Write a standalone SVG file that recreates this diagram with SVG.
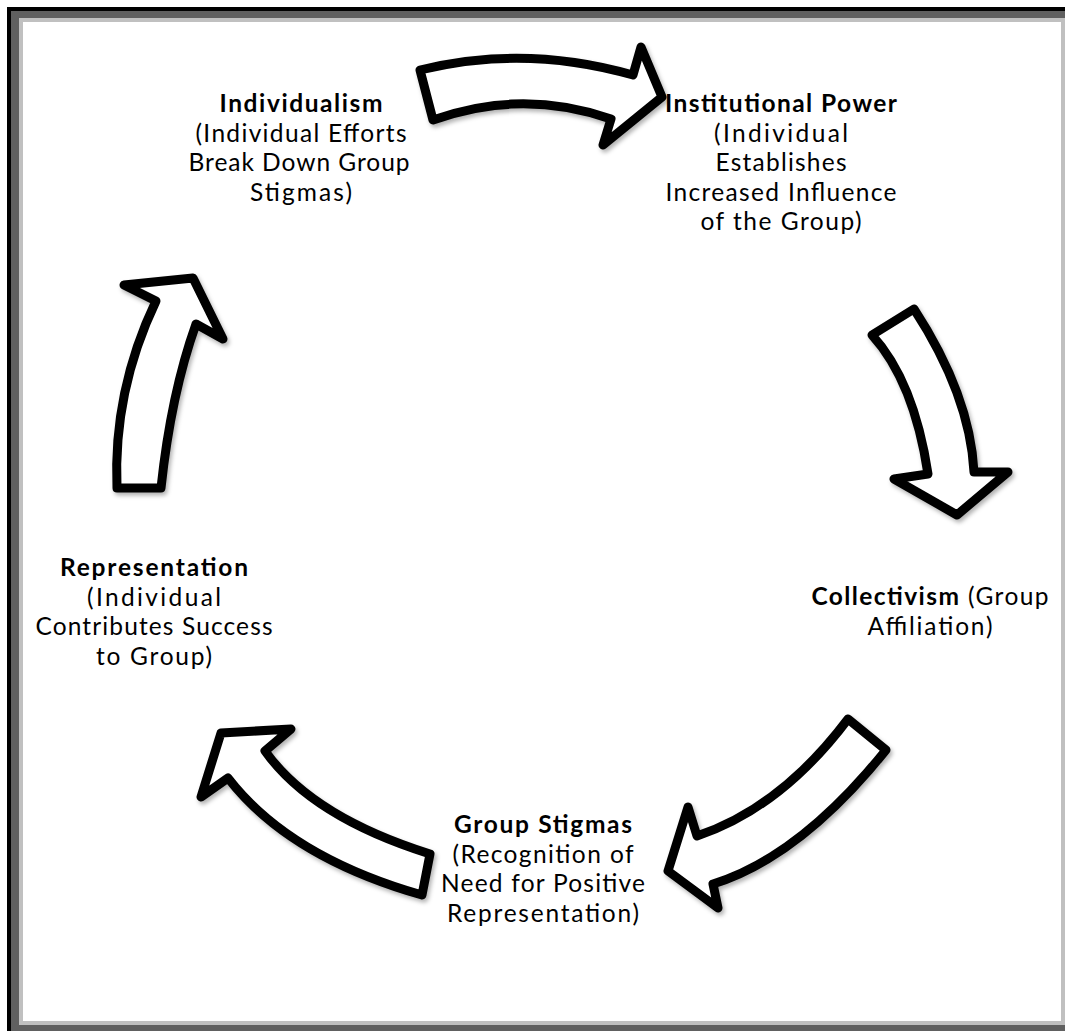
<svg xmlns="http://www.w3.org/2000/svg" width="1065" height="1031" viewBox="0 0 1065 1031">
  <style>
    .lbl { font-family: Lato, "Open Sans", "Liberation Sans", sans-serif; font-size: 24.5px; fill: #000; text-anchor: middle; }
    .b { font-weight: bold; }
    .arrow { fill: #fff; stroke: #000; stroke-width: 9; stroke-linejoin: round; filter: url(#shadow); }
  </style>
  <defs>
    <filter id="shadow" x="-20%" y="-20%" width="140%" height="140%">
      <feDropShadow dx="2" dy="3" stdDeviation="2" flood-color="#000" flood-opacity="0.3"/>
    </filter>
  </defs>

  <!-- page frame -->
  <rect x="0" y="0" width="1065" height="1031" fill="#fff"/>
  <rect x="7" y="7" width="1070" height="1040" fill="#000"/>
  <rect x="11" y="11" width="1070" height="1040" fill="#606060"/>
  <rect x="19" y="18" width="1046" height="1007" fill="#c0c0c0"/>
  <rect x="23" y="22" width="1038" height="999" fill="#fff"/>

  <!-- cycle arrows -->
  <g id="connectors">
    <path class="arrow" d="M 420,70 Q 525,44 633,75 L 641,47 L 662,97 L 603,145 L 611,119 Q 522,88 433,120 Z"/>
    <path class="arrow" d="M 872,335 L 914,309 Q 970,395 974,472 L 1008,472 L 957,515 L 894,479 L 928,474 Q 914,381 872,335 Z"/>
    <path class="arrow" d="M 848,719 L 886,750 Q 800,857 713,884 L 718,908 L 668,871 L 688,807 L 697,836 Q 781,808 848,719 Z"/>
    <path class="arrow" d="M 430,854 L 422,895 Q 289,857 228,778 L 201,797 L 221,733 L 291,729 L 265,751 Q 312,817 430,854 Z"/>
    <path class="arrow" d="M 117,488 Q 113,391 156,301 L 124,285 L 193,278 L 223,339 L 196,324 Q 171,394 161,488 Z"/>
  </g>

  <g id="individualism">
    <text class="lbl b" x="301" y="112" textLength="163" lengthAdjust="spacing">Individualism</text>
    <text class="lbl" x="301" y="141.5" textLength="211" lengthAdjust="spacing">(Individual Efforts</text>
    <text class="lbl" x="299" y="171" textLength="221" lengthAdjust="spacing">Break Down Group</text>
    <text class="lbl" x="301" y="200.5" textLength="102" lengthAdjust="spacing">Stigmas)</text>
  </g>

  <g id="institutional-power">
    <text class="lbl b" x="781" y="112" textLength="232" lengthAdjust="spacing">Institutional Power</text>
    <text class="lbl" x="781" y="141.5" textLength="134" lengthAdjust="spacing">(Individual</text>
    <text class="lbl" x="781" y="171" textLength="131" lengthAdjust="spacing">Establishes</text>
    <text class="lbl" x="781" y="200.5" textLength="231" lengthAdjust="spacing">Increased Influence</text>
    <text class="lbl" x="781" y="230" textLength="161" lengthAdjust="spacing">of the Group)</text>
  </g>

  <g id="collectivism">
    <text class="lbl" x="930" y="605" textLength="237" lengthAdjust="spacing"><tspan class="b">Collectivism</tspan> (Group</text>
    <text class="lbl" x="930" y="634.5" textLength="125" lengthAdjust="spacing">Affiliation)</text>
  </g>

  <g id="group-stigmas">
    <text class="lbl b" x="543" y="833" textLength="178" lengthAdjust="spacing">Group Stigmas</text>
    <text class="lbl" x="543" y="862.5" textLength="181" lengthAdjust="spacing">(Recognition of</text>
    <text class="lbl" x="543" y="892" textLength="204" lengthAdjust="spacing">Need for Positive</text>
    <text class="lbl" x="543" y="921.5" textLength="192" lengthAdjust="spacing">Representation)</text>
  </g>

  <g id="representation">
    <text class="lbl b" x="154" y="576" textLength="188" lengthAdjust="spacing">Representation</text>
    <text class="lbl" x="154" y="605.5" textLength="134" lengthAdjust="spacing">(Individual</text>
    <text class="lbl" x="154" y="635" textLength="237" lengthAdjust="spacing">Contributes Success</text>
    <text class="lbl" x="154" y="664.5" textLength="116" lengthAdjust="spacing">to Group)</text>
  </g>
</svg>
